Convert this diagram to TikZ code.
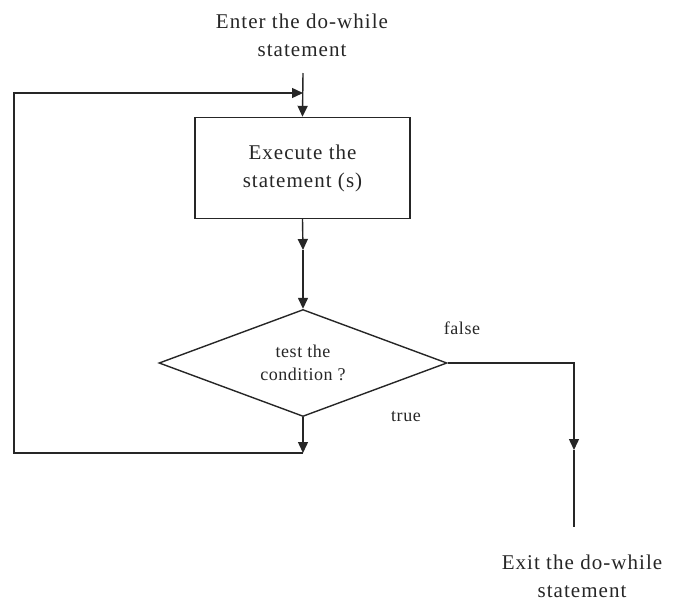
\documentclass[tikz,border=0pt]{standalone}
\usepackage{fontspec}
\setmainfont{Liberation Serif}
\usetikzlibrary{arrows.meta,shapes.geometric}

\begin{document}
\begin{tikzpicture}[x=1pt,y=-1pt]
\tikzset{flow/.style={line width=1.4pt,draw=black!85}}
\tikzset{flowarrow/.style={-{Triangle[width=10pt,length=11pt]}}}
\tikzset{bigtext/.style={font=\addfontfeature{LetterSpace=5}\fontsize{21}{28}\selectfont,align=center,text=black!85}}
\tikzset{smalltext/.style={font=\addfontfeature{LetterSpace=3}\fontsize{18}{23}\selectfont,align=center,text=black!85}}

\useasboundingbox (0,0) rectangle (675,603);

\node[bigtext] (enter) at (302,35) {Enter the do-while\\statement};
\node[flow,draw,minimum width=215pt,minimum height=101pt,inner sep=0pt,bigtext] (exec) at (302.5,168) {Execute the\\statement (s)};
\node[flow,draw,diamond,aspect=2.69,minimum width=288pt,minimum height=107pt,inner sep=0pt,smalltext] (test) at (303,363) {test the\\condition ?};
\node[smalltext] (falselbl) at (462,328) {false};
\node[smalltext] (truelbl) at (406,417) {true};
\node[bigtext] (exit) at (582,576) {Exit the do-while\\statement};

\coordinate (start) at (303,73);
\coordinate (join) at (303,93);
\coordinate (mid) at (303,250);
\coordinate (back) at (303,453);
\coordinate (corner) at (14,453);
\coordinate (exitarrow) at (574,450);
\coordinate (exitend) at (574,527);

\draw[flow,flowarrow] (start) -- (exec.north);
\draw[flow,flowarrow] (exec.south) -- (mid);
\draw[flow,flowarrow] (mid) -- (test.north);
\draw[flow,flowarrow] (test.south) -- (back);
\draw[flow,flowarrow] (back) -- (corner) |- (join);
\draw[flow,flowarrow] (test.east) -| (exitarrow);
\draw[flow] (exitarrow) -- (exitend);

\end{tikzpicture}
\end{document}
